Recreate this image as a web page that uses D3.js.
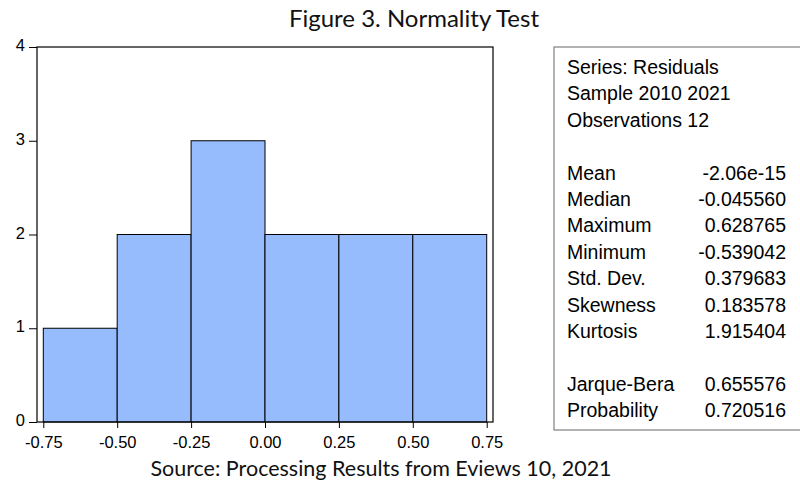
<!DOCTYPE html>
<html><head><meta charset="utf-8">
<script src="https://cdn.jsdelivr.net/npm/d3@7"></script>
<style>body{margin:0;background:#fff}svg{display:block}</style>
</head><body>
<svg id="c" width="800" height="484"></svg>
<script>
const binStarts = [-0.75, -0.5, -0.25, 0.0, 0.25, 0.5];
const binWidth = 0.25;
const counts = [1, 2, 3, 2, 2, 2];
const xTicks = [-0.75, -0.5, -0.25, 0, 0.25, 0.5, 0.75];
const yTicks = [0, 1, 2, 3, 4];
const headerLines = ["Series: Residuals", "Sample 2010 2021", "Observations 12"];
const statLabels = ["Mean", "Median", "Maximum", "Minimum", "Std. Dev.", "Skewness", "Kurtosis"];
const statValues = ["-2.06e-15", "-0.045560", "0.628765", "-0.539042", "0.379683", "0.183578", "1.915404"];
const testLabels = ["Jarque-Bera", "Probability"];
const testValues = ["0.655576", "0.720516"];

const svg = d3.select("#c");
const L = 37, R = 493, T = 47, B = 422;
const x = d3.scaleLinear().domain([-0.7713, 0.7713]).range([L, R]);
const y = d3.scaleLinear().domain([0, 4]).range([B, T]);
const font = "Liberation Sans, Arial, sans-serif";

svg.append("text").attr("x", 414).attr("y", 27).attr("text-anchor", "middle")
  .attr("font-family", "Lato, Open Sans, sans-serif").attr("font-size", 24).attr("fill", "#111")
  .text("Figure 3. Normality Test");

svg.append("g").selectAll("rect").data(counts).join("rect")
  .attr("x", (d, i) => x(binStarts[i]))
  .attr("width", (d, i) => x(binStarts[i] + binWidth) - x(binStarts[i]))
  .attr("y", d => y(d)).attr("height", d => y(0) - y(d))
  .attr("fill", "#97bcfd").attr("stroke", "#000").attr("stroke-width", 1);

svg.append("rect").attr("x", L).attr("y", T).attr("width", R - L).attr("height", B - T)
  .attr("fill", "none").attr("stroke", "#000").attr("stroke-width", 1.2);

const xa = svg.append("g").attr("transform", `translate(0,${B})`)
  .call(d3.axisBottom(x).tickValues(xTicks).tickFormat(d => d.toFixed(2)).tickSize(6).tickPadding(3).tickSizeOuter(0));
const ya = svg.append("g").attr("transform", `translate(${L},0)`)
  .call(d3.axisLeft(y).tickValues(yTicks).tickFormat(d => String(d)).tickSize(8).tickPadding(4).tickSizeOuter(0));
[xa, ya].forEach(g => {
  g.select(".domain").remove();
  g.selectAll("line").attr("stroke", "#000");
  g.selectAll("text").attr("font-family", font).attr("font-size", 16.5).attr("fill", "#000");
});
xa.selectAll("text").attr("dy", "1.0em");
ya.selectAll("text").attr("dy", "0.22em");

// stats box
svg.append("rect").attr("x", 554).attr("y", 47).attr("width", 250).attr("height", 383)
  .attr("fill", "#fff").attr("stroke", "#808080").attr("stroke-width", 1.2);
const lh = 26.4, y0 = 74, lx = 567, vx = 786;
const st = svg.append("g").attr("font-family", font).attr("font-size", 19.5).attr("fill", "#000");
headerLines.forEach((t, i) => st.append("text").attr("x", lx).attr("y", y0 + i * lh).text(t));
statLabels.forEach((t, i) => {
  st.append("text").attr("x", lx).attr("y", y0 + (i + 4) * lh).text(t);
  st.append("text").attr("x", vx).attr("y", y0 + (i + 4) * lh).attr("text-anchor", "end").text(statValues[i]);
});
testLabels.forEach((t, i) => {
  st.append("text").attr("x", lx).attr("y", y0 + (i + 12) * lh).text(t);
  st.append("text").attr("x", vx).attr("y", y0 + (i + 12) * lh).attr("text-anchor", "end").text(testValues[i]);
});

svg.append("text").attr("x", 381).attr("y", 476).attr("text-anchor", "middle")
  .attr("font-family", "Lato, Open Sans, sans-serif").attr("font-size", 21.5).attr("fill", "#111")
  .text("Source: Processing Results from Eviews 10, 2021");
</script>
</body></html>
